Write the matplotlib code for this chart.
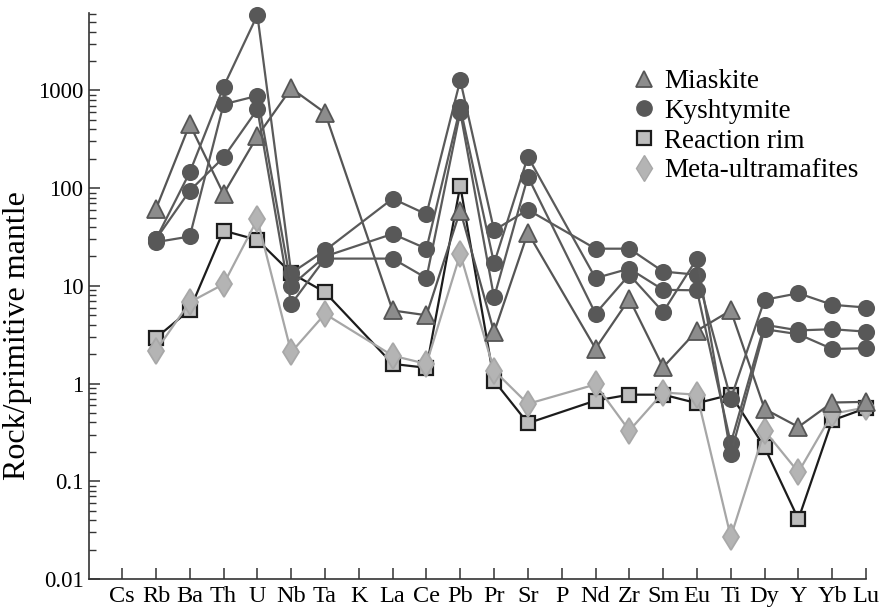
import numpy as np
import matplotlib
matplotlib.use("Agg")
import matplotlib.pyplot as plt
from matplotlib.lines import Line2D
from matplotlib.ticker import LogLocator, FixedLocator, NullFormatter

plt.rcParams['font.family'] = ['Liberation Serif', 'DejaVu Serif']

elements = ["Cs", "Rb", "Ba", "Th", "U", "Nb", "Ta", "K", "La", "Ce", "Pb", "Pr",
            "Sr", "P", "Nd", "Zr", "Sm", "Eu", "Ti", "Dy", "Y", "Yb", "Lu"]
N = np.nan
#            Cs  Rb    Ba    Th    U     Nb    Ta    K   La    Ce    Pb    Pr    Sr    P   Nd    Zr    Sm    Eu    Ti     Dy    Y      Yb    Lu
miaskite = [N, 61, 450, 87, 340, 1050, 590, N, 5.6, 5.0, 59, 3.35, 35, N, 2.28, 7.35, 1.47, 3.48, 5.6, 0.55, 0.36, 0.64, 0.65]
kysh_1 = [N, 30, 145, 1090, 5900, 13.5, 23, N, 78, 54, 1270, 37, 60, N, 24, 24, 14, 13, 0.7, 7.2, 8.4, 6.4, 6.0]
kysh_2 = [N, 28, 32, 720, 880, 10, 20, N, 34, 24, 670, 17, 210, N, 12, 15, 9.1, 9.0, 0.245, 4.0, 3.5, 3.6, 3.4]
kysh_3 = [N, 30, 94, 206, 640, 6.5, 19, N, 19, 12, 600, 7.6, 131, N, 5.2, 13, 5.4, 19, 0.19, 3.6, 3.2, 2.26, 2.3]
reaction_rim = [N, 2.93, 5.67, 36.7, 29.5, 13.5, 8.6, N, 1.59, 1.45, 106, 1.07, 0.393, N, 0.67, 0.77, 0.77, 0.63, 0.77, 0.223, 0.041, 0.42, 0.56]
meta_ultramafites = [N, 2.17, 6.8, 10.4, 48, 2.09, 5.16, N, 1.93, 1.59, 21.2, 1.36, 0.62, N, 0.98, 0.33, 0.81, 0.77, 0.027, 0.33, 0.124, 0.49, 0.57]

fig = plt.figure(figsize=(8.81, 6.16), dpi=100)
ax = fig.add_axes([0.101, 0.060, 0.882, 0.919])

x = np.arange(len(elements))

def draw(vals, marker, mfc, mec, lc, ms, mew=1.3, lw=1.6, z=2):
    v = np.array(vals, dtype=float)
    m = ~np.isnan(v)
    ax.plot(x[m], v[m], color=lc, lw=lw, marker=marker, ms=ms, mfc=mfc,
            mec=mec, mew=mew, zorder=z, clip_on=False)

draw(reaction_rim, 's', '#bdbdbd', '#1c1c1c', '#1c1c1c', 10.5, mew=1.6, z=2)
draw(meta_ultramafites, 'd', '#b4b4b4', '#a8a8a8', '#a6a6a6', 13, z=3)
draw(miaskite, '^', '#8c8c8c', '#555555', '#555555', 12.5, z=4)
for k in (kysh_1, kysh_2, kysh_3):
    draw(k, 'o', '#585858', '#585858', '#5a5a5a', 11, z=5)

ax.set_yscale('log')
ax.set_ylim(0.01, 6200)
ax.set_xlim(-0.98, 22)
ax.set_xticks(x)
ax.set_xticklabels(elements, fontsize=17.5)
ax.yaxis.set_major_locator(FixedLocator([0.01, 0.1, 1, 10, 100, 1000]))
ax.set_yticklabels(["0.01", "0.1", "1", "10", "100", "1000"], fontsize=16.5)
ax.yaxis.set_minor_locator(LogLocator(base=10, subs=np.arange(2, 10), numticks=20))
ax.yaxis.set_minor_formatter(NullFormatter())
ax.tick_params(axis='both', which='major', direction='in', length=8, width=1.1, color='#333333', pad=4)
ax.tick_params(axis='y', which='minor', direction='in', length=5, width=1.0, color='#333333')
ax.tick_params(axis='x', pad=5)
for s in ('top', 'right'):
    ax.spines[s].set_visible(False)
for s in ('left', 'bottom'):
    ax.spines[s].set_color('#333333')
    ax.spines[s].set_linewidth(1.2)
ax.set_ylabel("Rock/primitive mantle", fontsize=23)
ax.yaxis.set_label_coords(-0.073, 0.43)

handles = [
    Line2D([], [], ls='none', marker='^', ms=12, mfc='#8c8c8c', mec='#555555', mew=1.3),
    Line2D([], [], ls='none', marker='o', ms=11, mfc='#585858', mec='#585858'),
    Line2D([], [], ls='none', marker='s', ms=10.5, mfc='#bdbdbd', mec='#1c1c1c', mew=1.6),
    Line2D([], [], ls='none', marker='d', ms=13, mfc='#b4b4b4', mec='#a8a8a8'),
]
labels = ["Miaskite", "Kyshtymite", "Reaction rim", "Meta-ultramafites"]
fig.legend(handles, labels, loc='upper left', bbox_to_anchor=(0.703, 0.905),
           frameon=False, fontsize=19.5, handletextpad=0.25, labelspacing=0.17,
           handlelength=1.0, borderaxespad=0)

fig.savefig("out.png", dpi=100)
